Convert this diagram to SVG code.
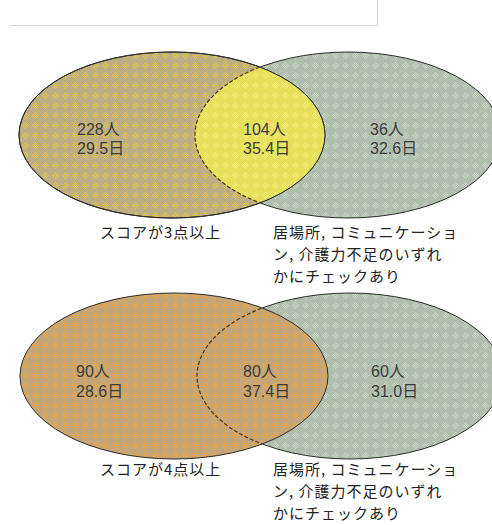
<svg xmlns="http://www.w3.org/2000/svg" width="492" height="525" viewBox="0 0 492 525">
<style>
.num{font-family:"Liberation Sans","Noto Sans CJK JP",sans-serif;font-size:16px;fill:#3a3a3a}
.lbl{font-family:"Noto Sans CJK JP","Noto Sans",sans-serif;font-size:15px;letter-spacing:1px;fill:#222}
.edge{fill:none;stroke:#2a2a2a;stroke-width:1}
.dash{fill:none;stroke:#4a3510;stroke-width:1.2;stroke-dasharray:4 2}
.frame{fill:none;stroke:#d4d4d4;stroke-width:1}
</style>
<defs>
<path id="dots" d="M5 2h1v1h-1zM4 3h1v1h-1zM6 3h1v1h-1zM3 4h1v1h-1zM5 4h1v1h-1zM7 4h1v1h-1zM2 5h1v1h-1zM4 5h1v1h-1zM6 5h1v1h-1zM8 5h1v1h-1zM3 6h1v1h-1zM5 6h1v1h-1zM7 6h1v1h-1zM4 7h1v1h-1zM6 7h1v1h-1zM5 8h1v1h-1z"/>
<pattern id="pKhaki" width="10" height="10" patternUnits="userSpaceOnUse"><rect width="10" height="10" fill="#beae84"/><use href="#dots" fill="#e2c646"/></pattern>
<pattern id="pGreen" width="10" height="10" patternUnits="userSpaceOnUse"><rect width="10" height="10" fill="#b0bfad"/><use href="#dots" fill="#c8d8c5"/></pattern>
<pattern id="pYellow" width="10" height="10" patternUnits="userSpaceOnUse"><rect width="10" height="10" fill="#e6e05a"/><use href="#dots" fill="#f3ee78"/></pattern>
<pattern id="pOrange" width="10" height="10" patternUnits="userSpaceOnUse"><rect width="10" height="10" fill="#c4a678"/><use href="#dots" fill="#eea640"/></pattern>
<clipPath id="c1"><ellipse cx="172" cy="135" rx="153" ry="83"/></clipPath>
<clipPath id="c2"><ellipse cx="174" cy="376" rx="154" ry="83"/></clipPath>
</defs>

<g id="frame">
<line class="frame" x1="377.5" y1="0" x2="377.5" y2="25.5"/>
<line class="frame" x1="9" y1="25.5" x2="377.5" y2="25.5"/>
</g>

<g id="venn1">
<g id="v1-right"><ellipse cx="348" cy="135" rx="153" ry="83" style="fill:url(#pGreen)" class="edge"/></g>
<g id="v1-left"><ellipse cx="172" cy="135" rx="153" ry="83" style="fill:url(#pKhaki)" class="edge"/></g>
<g id="v1-overlap">
<ellipse cx="348" cy="135" rx="153" ry="83" fill="url(#pYellow)" clip-path="url(#c1)"/>
<ellipse cx="172" cy="135" rx="153" ry="83" class="edge"/>
<ellipse cx="348" cy="135" rx="153" ry="83" class="dash" clip-path="url(#c1)"/>
</g>
<g id="v1-text">
<text class="num" x="77" y="135">228人</text>
<text class="num" x="77" y="154">29.5日</text>
<text class="num" x="243" y="135">104人</text>
<text class="num" x="243" y="154">35.4日</text>
<text class="num" x="370" y="135">36人</text>
<text class="num" x="370" y="154">32.6日</text>
</g>
<g id="v1-labels">
<text class="lbl" x="100" y="238">スコアが3点以上</text>
<text class="lbl" x="273" y="238">居場所, コミュニケーショ</text>
<text class="lbl" x="273" y="260">ン, 介護力不足のいずれ</text>
<text class="lbl" x="273" y="282">かにチェックあり</text>
</g>
</g>

<g id="venn2">
<g id="v2-right"><ellipse cx="350" cy="376" rx="153" ry="83" style="fill:url(#pGreen)" class="edge"/></g>
<g id="v2-left"><ellipse cx="174" cy="376" rx="154" ry="83" style="fill:url(#pOrange)" class="edge"/></g>
<g id="v2-overlap">
<ellipse cx="350" cy="376" rx="153" ry="83" class="dash" clip-path="url(#c2)"/>
</g>
<g id="v2-text">
<text class="num" x="76" y="377">90人</text>
<text class="num" x="76" y="397">28.6日</text>
<text class="num" x="243" y="377">80人</text>
<text class="num" x="243" y="397">37.4日</text>
<text class="num" x="371" y="377">60人</text>
<text class="num" x="371" y="397">31.0日</text>
</g>
<g id="v2-labels">
<text class="lbl" x="100" y="475">スコアが4点以上</text>
<text class="lbl" x="273" y="475">居場所, コミュニケーショ</text>
<text class="lbl" x="273" y="497">ン, 介護力不足のいずれ</text>
<text class="lbl" x="273" y="519">かにチェックあり</text>
</g>
</g>
</svg>
